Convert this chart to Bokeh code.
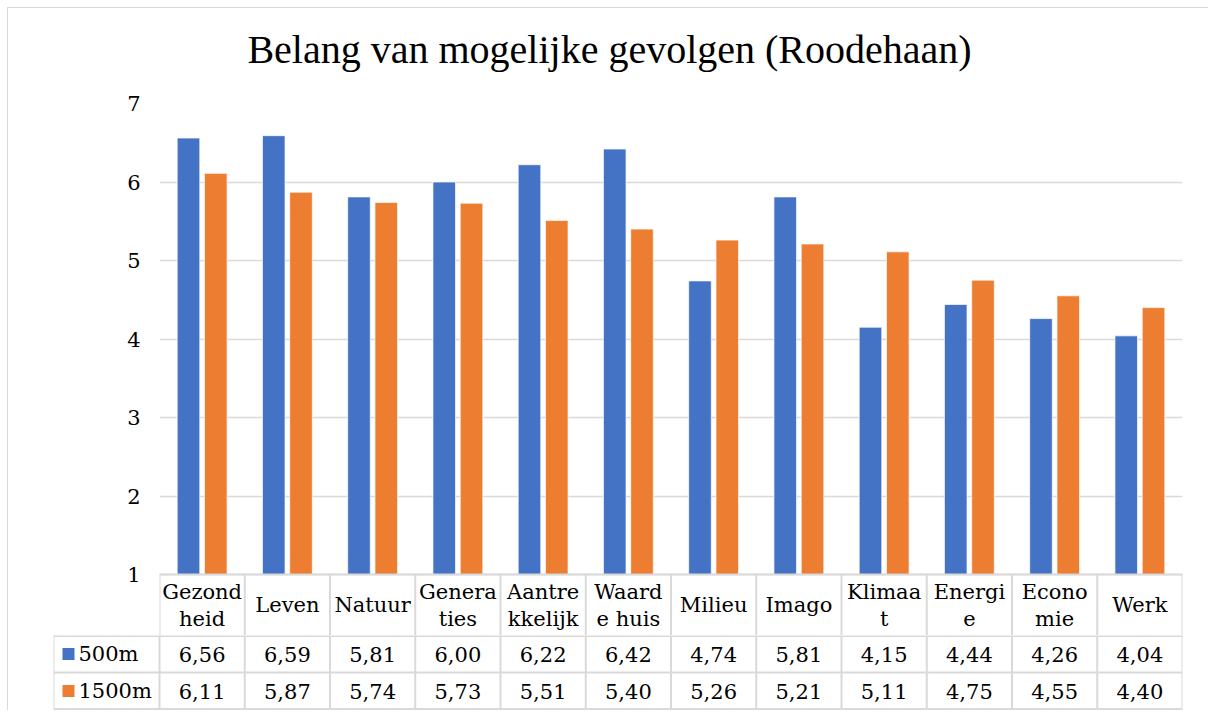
import numpy as np
from bokeh.plotting import figure
from bokeh.models import Range1d, FixedTicker, ColumnDataSource
from bokeh.layouts import column
from bokeh.transform import dodge
from bokeh.core.properties import value
from bokeh.embed import file_html
from bokeh.resources import INLINE

# ---------------- data ----------------
title_text = "Belang van mogelijke gevolgen (Roodehaan)"
categories = ["Gezond\nheid", "Leven", "Natuur", "Genera\nties", "Aantre\nkkelijk",
              "Waard\ne huis", "Milieu", "Imago", "Klimaa\nt", "Energi\ne",
              "Econo\nmie", "Werk"]
series_names = ["500m", "1500m"]
values_500m = [6.56, 6.59, 5.81, 6.00, 6.22, 6.42, 4.74, 5.81, 4.15, 4.44, 4.26, 4.04]
values_1500m = [6.11, 5.87, 5.74, 5.73, 5.51, 5.40, 5.26, 5.21, 5.11, 4.75, 4.55, 4.40]
y_ticks = [1, 2, 3, 4, 5, 6, 7]

# ---------------- style ----------------
colors = ["#4472C4", "#ED7D31"]
GRID = "#D9D9D9"
SERIF = "DejaVu Serif"
TITLE_FONT = "Liberation Serif"
FS = "21px"
TXT = "#000000"
W = 1200

n = len(categories)
PPU = 78.5          # px per value unit
HEADER_PX = 61      # header row height
y_lo = y_ticks[0] - HEADER_PX / PPU
TITLE_H = 80
TOP_BORDER = 95 - TITLE_H
top_h = int(round(TOP_BORDER + (y_ticks[-1] - y_lo) * PPU))

# ---------------- title strip ----------------
tt = figure(width=W, height=TITLE_H, x_range=Range1d(0, W), y_range=Range1d(TITLE_H, 0),
            output_backend="svg", toolbar_location=None,
            x_axis_location=None, y_axis_location=None, min_border=0)
tt.frame_align = False
tt.outline_line_color = None
tt.grid.visible = False
tt.text(x=[601], y=[41], text=[title_text], text_align="center",
        text_baseline="alphabetic", text_font=value(TITLE_FONT),
        text_font_size="40px", text_color=TXT)

# ---------------- main figure: bars + header row ----------------
p = figure(width=W, height=top_h, x_range=Range1d(0, n),
           y_range=Range1d(y_lo, y_ticks[-1]),
           output_backend="svg", toolbar_location=None,
           x_axis_location=None,
           min_border_left=151, min_border_right=26,
           min_border_top=TOP_BORDER, min_border_bottom=0)
p.frame_align = False
p.outline_line_color = None
p.background_fill_color = "white"

ticker = FixedTicker(ticks=y_ticks)
p.yaxis.ticker = ticker
p.ygrid.ticker = ticker
p.yaxis.axis_line_color = None
p.yaxis.major_tick_line_color = None
p.yaxis.minor_tick_line_color = None
p.yaxis.major_label_text_font = SERIF
p.yaxis.major_label_text_font_size = "21px"
p.yaxis.major_label_text_color = TXT
p.yaxis.major_label_standoff = 13
p.xgrid.visible = False
p.ygrid.grid_line_color = GRID
p.ygrid.grid_line_width = 1.5

x_centers = np.arange(n) + 0.5
src = ColumnDataSource(dict(x=x_centers, v500=values_500m, v1500=values_1500m))
p.vbar(x=dodge("x", -0.16), top="v500", bottom=y_ticks[0], width=0.265,
       source=src, fill_color=colors[0], line_color="white", line_width=0.7)
p.vbar(x=dodge("x", 0.16), top="v1500", bottom=y_ticks[0], width=0.265,
       source=src, fill_color=colors[1], line_color="white", line_width=0.7)

# header cell borders
bounds = list(range(n + 1))
p.segment(x0=bounds, y0=[y_lo] * len(bounds), x1=bounds, y1=[y_ticks[0]] * len(bounds),
          line_color=GRID, line_width=2)
p.segment(x0=[0], y0=[y_ticks[0]], x1=[n], y1=[y_ticks[0]], line_color=GRID, line_width=2)

# header labels (split on line breaks)
hx, hy, ht = [], [], []
for i, c in enumerate(categories):
    parts = c.split("\n")
    if len(parts) == 2:
        hx += [x_centers[i]] * 2
        hy += [y_ticks[0] - 17 / PPU, y_ticks[0] - 44 / PPU]
        ht += parts
    else:
        hx.append(x_centers[i])
        hy.append(y_ticks[0] - 30.5 / PPU)
        ht.append(parts[0])
p.text(x=hx, y=hy, text=ht, text_align="center", text_baseline="middle",
       text_font=value(SERIF), text_font_size=FS, text_color=TXT)

# ---------------- bottom figure: data table ----------------
CELL_PX = 1023 / n
LEG_PX = 106
x_left = -LEG_PX / CELL_PX
ROW_H = 37
t = figure(width=W, height=75, x_range=Range1d(x_left, n), y_range=Range1d(75, 0),
           output_backend="svg", toolbar_location=None,
           x_axis_location=None, y_axis_location=None,
           min_border_left=45, min_border_right=26, min_border_top=0, min_border_bottom=0)
t.frame_align = False
t.outline_line_color = None
t.grid.visible = False

hl = [0.5, ROW_H, 2 * ROW_H - 0.5]
t.segment(x0=[x_left] * 3, y0=hl, x1=[n] * 3, y1=hl, line_color=GRID, line_width=2)
vl = [x_left] + bounds
t.segment(x0=vl, y0=[0] * len(vl), x1=vl, y1=[2 * ROW_H] * len(vl),
          line_color=GRID, line_width=2)

row_y = [ROW_H / 2, ROW_H * 1.5]
fmt = lambda v: f"{v:.2f}".replace(".", ",")
for vals, ry in zip([values_500m, values_1500m], row_y):
    t.text(x=x_centers, y=[ry] * n, text=[fmt(v) for v in vals],
           text_align="center", text_baseline="middle",
           text_font=value(SERIF), text_font_size=FS, text_color=TXT)

t.scatter(x=[x_left + 15 / CELL_PX] * 2, y=row_y, marker="square", size=12,
          fill_color=colors, line_color=None)
t.text(x=[x_left + 25 / CELL_PX] * 2, y=row_y, text=series_names,
       text_align="left", text_baseline="middle",
       text_font=value(SERIF), text_font_size=FS, text_color=TXT)

layout = column(tt, p, t, spacing=0,
                styles={"margin-left": "7px", "margin-top": "7px",
                        "border-top": "1px solid #D9D9D9", "border-left": "1px solid #D9D9D9"})

open("out.html", "w").write(file_html(layout, INLINE))
